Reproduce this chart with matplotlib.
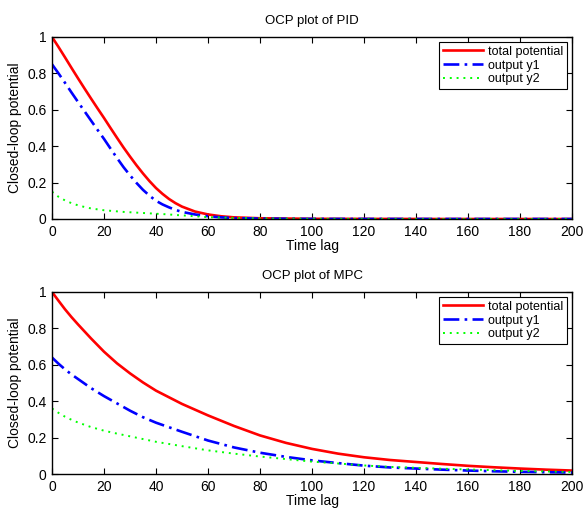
import matplotlib
matplotlib.use('Agg')
import matplotlib.pyplot as plt
from matplotlib.ticker import FuncFormatter

plt.rcParams['font.family'] = ['Liberation Sans', 'DejaVu Sans']

# PID
x_pid = [0, 2.5, 5, 7.5, 10, 12.5, 15, 17.5, 20, 22.5, 25, 27.5, 30, 32.5, 35, 37.5, 40, 42.5, 45,
         47.5, 50, 55, 60, 65, 70, 80, 100, 150, 200]
pid_total = [1.0, 0.945, 0.888, 0.83, 0.773, 0.717, 0.662, 0.608, 0.555, 0.5, 0.446, 0.393, 0.343,
             0.295, 0.25, 0.208, 0.17, 0.138, 0.11, 0.087, 0.068, 0.041, 0.025, 0.015, 0.009, 0.004,
             0.001, 0.0, 0.0]
pid_y1 = [0.85, 0.8, 0.748, 0.695, 0.643, 0.592, 0.541, 0.49, 0.44, 0.387, 0.335, 0.285, 0.24,
          0.198, 0.16, 0.128, 0.1, 0.08, 0.064, 0.05, 0.039, 0.025, 0.015, 0.009, 0.005, 0.002,
          0.0005, 0.0, 0.0]
pid_y2 = [0.15, 0.122, 0.102, 0.087, 0.075, 0.066, 0.058, 0.053, 0.048, 0.045, 0.042, 0.039, 0.037,
          0.035, 0.033, 0.031, 0.029, 0.027, 0.025, 0.022, 0.02, 0.015, 0.01, 0.008, 0.006, 0.003,
          0.001, 0.0, 0.0]

# MPC
x_mpc = [0, 2.5, 5, 7.5, 10, 15, 20, 25, 30, 35, 40, 50, 60, 70, 80, 90, 100, 110, 120, 130, 140,
         150, 160, 170, 180, 190, 200]
mpc_total = [1.0, 0.952, 0.905, 0.862, 0.822, 0.745, 0.672, 0.608, 0.553, 0.503, 0.458, 0.385, 0.322,
             0.264, 0.212, 0.171, 0.138, 0.112, 0.092, 0.077, 0.066, 0.055, 0.045, 0.037, 0.03,
             0.024, 0.019]
mpc_y1 = [0.64, 0.606, 0.575, 0.547, 0.522, 0.472, 0.428, 0.388, 0.348, 0.312, 0.282, 0.232, 0.184,
          0.146, 0.117, 0.094, 0.075, 0.06, 0.046, 0.036, 0.03, 0.024, 0.019, 0.015, 0.012, 0.01,
          0.008]
mpc_y2 = [0.36, 0.336, 0.315, 0.298, 0.283, 0.258, 0.238, 0.222, 0.207, 0.192, 0.177, 0.153, 0.13,
          0.112, 0.096, 0.082, 0.068, 0.058, 0.047, 0.039, 0.034, 0.029, 0.025, 0.021, 0.017,
          0.014, 0.011]

labels = ['total potential', 'output y1', 'output y2']
titles = ['OCP plot of PID', 'OCP plot of MPC']
xticks = list(range(0, 201, 20))
yticks = [0, 0.2, 0.4, 0.6, 0.8, 1]

fig = plt.figure(figsize=(5.85, 5.08), dpi=100)
ax1 = fig.add_axes([0.0889, 0.5689, 0.8889, 0.3583])
ax2 = fig.add_axes([0.0889, 0.0669, 0.8889, 0.3583])

data = [(x_pid, pid_total, pid_y1, pid_y2), (x_mpc, mpc_total, mpc_y1, mpc_y2)]
for ax, (x, tot, y1, y2), t in zip([ax1, ax2], data, titles):
    ax.plot(x, tot, color=(1, 0, 0), lw=1.9, label=labels[0])
    ax.plot(x, y1, color=(0, 0, 1), lw=1.9, dashes=(6, 2, 1, 2), label=labels[1])
    ax.plot(x, y2, color=(0, 1, 0), lw=1.4, dashes=(1, 2.5), label=labels[2])
    ax.set_xlim(0, 200)
    ax.set_ylim(0, 1)
    ax.set_xticks(xticks)
    ax.set_yticks(yticks)
    ax.yaxis.set_major_formatter(FuncFormatter(lambda v, p: '%g' % v))
    ax.tick_params(direction='in', top=True, right=True, length=4, width=0.8, labelsize=10, pad=4)
    for s in ax.spines.values():
        s.set_linewidth(1.0)
    ax.set_title(t, fontsize=9.5, pad=9)
    ax.set_xlabel('Time lag', fontsize=10, labelpad=0)
    ax.set_ylabel('Closed-loop potential', fontsize=10, labelpad=4)
    leg = ax.legend(loc='upper right', fontsize=9, fancybox=False, framealpha=1,
                    edgecolor='black', handlelength=3.2, borderpad=0.3,
                    labelspacing=0.15, handletextpad=0.4, borderaxespad=0.4)
    leg.get_frame().set_linewidth(0.8)

fig.savefig('out.png', dpi=100)
